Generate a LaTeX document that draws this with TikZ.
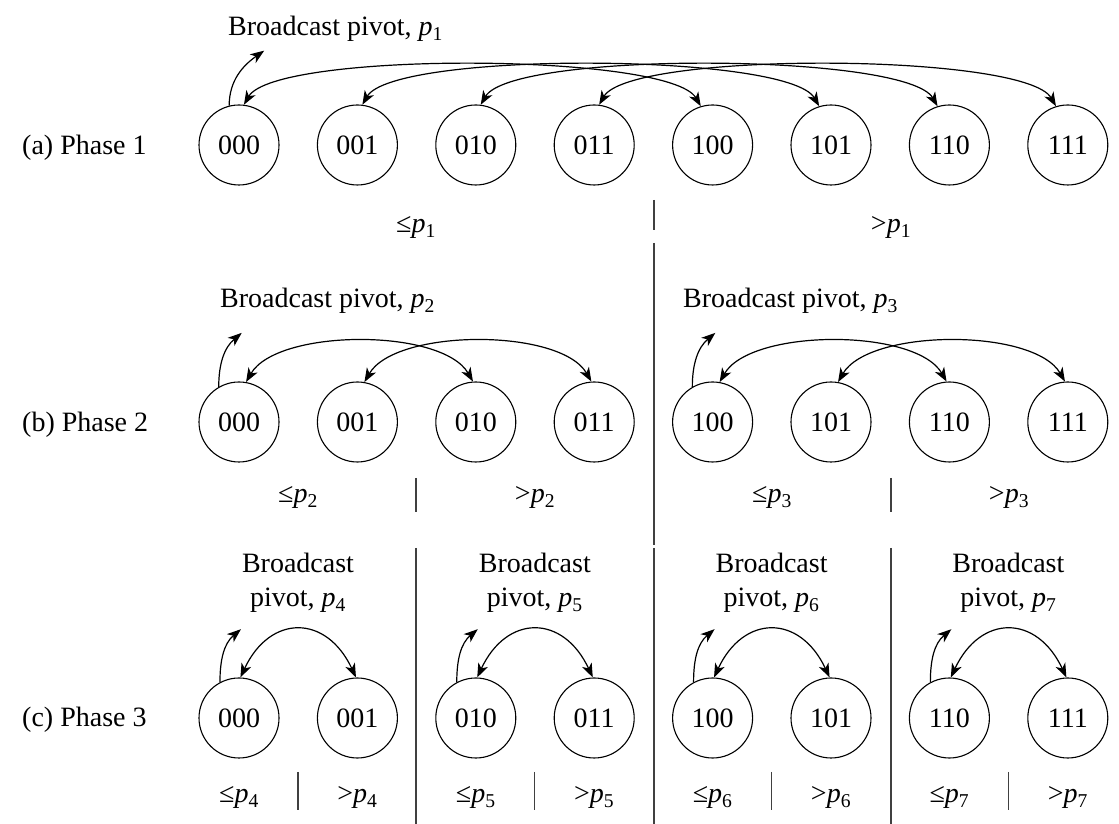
\documentclass[tikz,border=0pt]{standalone}
\usepackage{fontspec}
\setmainfont{Liberation Serif}
\usetikzlibrary{arrows.meta}
\newcommand\pv[1]{\textit{p}\textsubscript{#1}}
\begin{document}
\begin{tikzpicture}[x=1pt,y=1pt,
  proc/.style={circle,draw,line width=1.1pt,minimum size=80pt,inner sep=0pt,font=\fontsize{28}{28}\selectfont},
  lbl/.style={inner sep=0pt,font=\fontsize{28}{30}\selectfont},
  lbl2/.style={inner sep=0pt,align=center,font=\fontsize{28}{34}\selectfont},
  tipx/.tip={Stealth[length=14pt,width=10.5pt,inset=4pt]},
  arc/.style={line width=1.2pt,tipx-tipx},
  bc/.style={line width=1.2pt,-tipx},
  sep/.style={line width=1.1pt,draw=black!75}]
\useasboundingbox (0,0) rectangle (1119,824);
% phase labels
\node[lbl,anchor=west] (pa) at (22,676) {(a) Phase 1};
\node[lbl,anchor=west] (pb) at (22,399) {(b) Phase 2};
\node[lbl,anchor=west] (pc) at (22,104) {(c) Phase 3};
% nodes
\foreach \i/\t in {0/000,1/001,2/010,3/011,4/100,5/101,6/110,7/111}{
  \node[proc] (a\i) at ({239+118.4*\i},679) {\t};
  \node[proc] (b\i) at ({239+118.4*\i},402) {\t};
  \node[proc] (c\i) at ({239+118.4*\i},106) {\t};
}
% phase 1
\node[lbl,anchor=base west] (bp1) at (228,788) {Broadcast pivot, \pv{1}};
\foreach \i in {0,...,3}{
  \pgfmathtruncatemacro\j{\i+4}
  \draw[arc] (a\i.83) to[out=60,in=120,distance=62pt] (a\j.107);
}
\path (a0.104) ++(35,55) coordinate (ta);
\draw[bc] (a0.104) to[out=90,in=215] (ta);
\node[lbl,anchor=base] (le1) at (416,591) {≤\pv{1}};
\node[lbl,anchor=base] (gt1) at (891,591) {>\pv{1}};
\coordinate (d1a) at (654,624);
\coordinate (d1b) at (654,594);
\coordinate (d1c) at (654,581);
\coordinate (d1d) at (654,279);
\draw[sep] (d1a) -- (d1b);
\draw[sep] (d1c) -- (d1d);
% phase 2
\node[lbl,anchor=base west] (bp2) at (220,516) {Broadcast pivot, \pv{2}};
\node[lbl,anchor=base west] (bp3) at (683,516) {Broadcast pivot, \pv{3}};
\foreach \i/\j in {0/2,1/3,4/6,5/7}{
  \draw[arc] (b\i.80) to[out=60,in=120,distance=62pt] (b\j.94);
}
\path (b0.120) ++(23,54) coordinate (tb0);
\path (b4.120) ++(23,54) coordinate (tb4);
\draw[bc] (b0.120) to[out=90,in=220] (tb0);
\draw[bc] (b4.120) to[out=90,in=220] (tb4);
\node[lbl,anchor=base] (le2) at (298,321) {≤\pv{2}};
\node[lbl,anchor=base] (gt2) at (535,321) {>\pv{2}};
\node[lbl,anchor=base] (le3) at (772,321) {≤\pv{3}};
\node[lbl,anchor=base] (gt3) at (1009,321) {>\pv{3}};
\coordinate (d2a) at (416,346);
\coordinate (d2b) at (416,312);
\coordinate (d2c) at (891,346);
\coordinate (d2d) at (891,312);
\draw[sep] (d2a) -- (d2b);
\draw[sep] (d2c) -- (d2d);
% phase 3
\foreach \k/\i/\j/\n in {0/0/1/4,1/2/3/5,2/4/5/6,3/6/7/7}{
  \node[lbl2,anchor=base] (bq\k) at ({298+236.8*\k},217) {Broadcast\\pivot, \pv{\n}};
  \draw[arc] (c\i.88) to[out=65,in=115,distance=70pt] (c\j.92);
  \path (c\i.118) ++(21,53) coordinate (tc\k);
  \draw[bc] (c\i.118) to[out=90,in=220] (tc\k);
  \node[lbl,anchor=base] (lq\k) at ({239+236.8*\k},21) {≤\pv{\n}};
  \node[lbl,anchor=base] (gq\k) at ({357.4+236.8*\k},21) {>\pv{\n}};
  \coordinate (s\k a) at ({298+236.8*\k},52);
  \coordinate (s\k b) at ({298+236.8*\k},14);
  \draw[sep] (s\k a) -- (s\k b);
}
\foreach \x/\m in {416/1,654/2,891/3}{
  \coordinate (v\m a) at (\x,276);
  \coordinate (v\m b) at (\x,0);
  \draw[sep] (v\m a) -- (v\m b);
}
\end{tikzpicture}
\end{document}
